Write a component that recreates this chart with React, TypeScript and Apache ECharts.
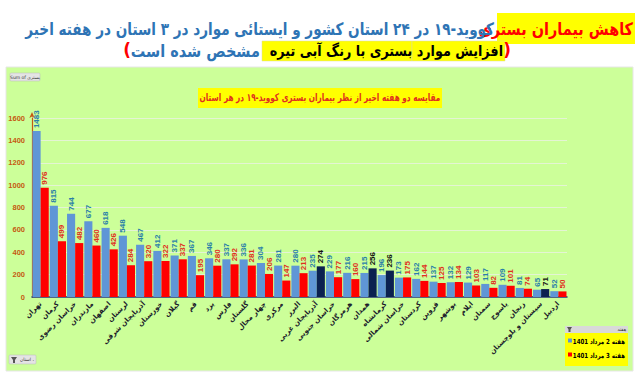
import React, { useEffect, useRef } from 'react';
import * as echarts from 'echarts';

const provinces = [
  'تهران', 'کرمان', 'خراسان رضوی', 'مازندران', 'اصفهان', 'لرستان', 'آذربایجان شرقی',
  'خوزستان', 'گیلان', 'قم', 'یزد', 'فارس', 'گلستان', 'چهار محال', 'مرکزی', 'البرز',
  'آذربایجان غربی', 'خراسان جنوبی', 'هرمزگان', 'همدان', 'کرمانشاه', 'خراسان شمالی',
  'کردستان', 'قزوین', 'بوشهر', 'ایلام', 'سمنان', 'یاسوج', 'زنجان', 'سیستان و بلوچستان', 'اردبیل',
];
const week2 = [1483, 815, 744, 677, 618, 548, 467, 412, 371, 367, 346, 337, 336, 304, 281, 280, 235, 229, 216, 215, 196, 173, 162, 137, 132, 129, 117, 109, 81, 65, 52];
const week3 = [976, 499, 482, 460, 426, 284, 320, 322, 337, 195, 280, 292, 281, 206, 147, 213, 274, 177, 160, 256, 236, 175, 144, 125, 134, 103, 82, 101, 74, 71, 50];
const increased = ['آذربایجان غربی', 'همدان', 'کرمانشاه', 'سیستان و بلوچستان'];
const seriesNames = ['هفته 2 مرداد 1401', 'هفته 3 مرداد 1401'];

const BLUE = '#5f96d6';
const RED = '#ff0000';
const DARK = '#0b2150';
const FA = 'DejaVu Sans';

export default function App() {
  const ref = useRef<HTMLDivElement>(null);
  useEffect(() => {
    document.body.style.margin = '0';
    const chart = echarts.init(ref.current!, null, { renderer: 'svg' });
    const labelBase = {
      show: true,
      position: 'top',
      rotate: 90,
      align: 'left',
      verticalAlign: 'middle',
      distance: 3,
      fontSize: 8,
      fontWeight: 'bold',
      fontFamily: 'Liberation Sans',
    };
    const txt = (x: number, y: number, text: string, fill: string, font: string, align: string, sx = 1) => ({
      type: 'text', x, y, scaleX: sx,
      style: { text, align, verticalAlign: 'middle', fill, font },
    });
    chart.setOption({
      animation: false,
      backgroundColor: '#ffffff',
      graphic: [
        { type: 'rect', z: -10, shape: { x: 6, y: 67, width: 627, height: 304 }, style: { fill: '#ccff99', stroke: '#e6e6e6' } },
        // main title line 1
        { type: 'rect', shape: { x: 497, y: 13, width: 138, height: 31 }, style: { fill: '#ffff00' } },
        txt(633, 29, 'کاهش بیماران بستری', RED, `bold 17px "${FA}"`, 'right', 0.85),
        txt(494, 29, 'کووید-۱۹ در ۲۴ استان کشور و ایستائی موارد در ۳ استان در هفته اخیر', '#2e74b5', `bold 17px "${FA}"`, 'right', 0.8),
        // line 2
        { type: 'rect', shape: { x: 262, y: 41, width: 150, height: 20 }, style: { fill: '#ffff00', stroke: '#d8d8a0', lineWidth: 0.5 } },
        { type: 'rect', shape: { x: 412, y: 41, width: 93, height: 20 }, style: { fill: '#ffff00', stroke: '#d8d8a0', lineWidth: 0.5 } },
        txt(511, 50, ')', RED, `bold 17px "${FA}"`, 'right'),
        txt(503, 51, 'افزایش موارد بستری با رنگ آبی تیره', '#000000', `bold 15px "${FA}"`, 'right', 0.85),
        txt(260, 51, 'مشخص شده است', '#2e74b5', `bold 17px "${FA}"`, 'right', 0.85),
        txt(131, 50, '(', RED, `bold 17px "${FA}"`, 'right'),
        // chart title
        { type: 'rect', shape: { x: 198, y: 88, width: 244, height: 20 }, style: { fill: '#ffff00' } },
        { type: 'text', x: 320, y: 98, scaleX: 0.7, style: { text: 'مقایسه دو هفته اخیر از نظر بیماران بستری کووید-۱۹ در هر استان', align: 'center', verticalAlign: 'middle', fill: '#e0301e', font: `bold 10.5px "${FA}"` } },
        // top-left button
        { type: 'rect', shape: { x: 10, y: 73, width: 30, height: 8, r: 1 }, style: { fill: '#e4e4e4', stroke: '#b8b8b8', lineWidth: 0.5 } },
        { type: 'text', x: 25, y: 77, style: { text: 'Sum of بستری', align: 'center', verticalAlign: 'middle', fill: '#333', font: `4.5px "${FA}"` } },
        // bottom-left button
        { type: 'rect', shape: { x: 9, y: 355, width: 27, height: 9, r: 1 }, style: { fill: '#e4e4e4', stroke: '#b8b8b8', lineWidth: 0.5 } },
        { type: 'polygon', shape: { points: [[11, 357], [17, 357], [15, 360], [15, 363], [13, 363], [13, 360]] }, style: { fill: '#555' } },
        { type: 'text', x: 34, y: 359.5, style: { text: 'استان ،', align: 'right', verticalAlign: 'middle', fill: '#333', font: `4.5px "${FA}"` } },
        // legend
        { type: 'rect', shape: { x: 565, y: 326, width: 63, height: 40 }, style: { fill: '#ffff00' } },
        { type: 'rect', shape: { x: 565, y: 326, width: 63, height: 7 }, style: { fill: '#d9d9d9' } },
        { type: 'polygon', shape: { points: [[567, 327], [572, 327], [570.5, 329.5], [570.5, 332], [568.5, 332], [568.5, 329.5]] }, style: { fill: '#555' } },
        { type: 'text', x: 626, y: 329.5, style: { text: 'هفته', align: 'right', verticalAlign: 'middle', fill: '#333', font: `4.5px "${FA}"` } },
        { type: 'rect', shape: { x: 568, y: 338.5, width: 4, height: 4 }, style: { fill: BLUE } },
        txt(625, 341, seriesNames[0], '#000', `bold 7px "${FA}"`, 'right', 0.78),
        { type: 'rect', shape: { x: 568, y: 352.5, width: 4, height: 4 }, style: { fill: RED } },
        txt(625, 355, seriesNames[1], '#000', `bold 7px "${FA}"`, 'right', 0.78),
      ],
      grid: { left: 32, right: 73, top: 118, bottom: 79 },
      xAxis: {
        type: 'category',
        data: provinces,
        axisLine: { lineStyle: { color: '#1f3864', width: 1.5 } },
        axisTick: { show: false },
        axisLabel: { interval: 0, rotate: 45, margin: 6, fontSize: 7, fontWeight: 'bold', color: '#1a1a2a', fontFamily: FA },
      },
      yAxis: {
        type: 'value',
        min: 0,
        max: 1600,
        interval: 200,
        axisLine: { show: true, symbol: ['none', 'arrow'], symbolSize: [4, 6], symbolOffset: [0, 6], lineStyle: { color: '#c55a11', width: 1.2 } },
        axisTick: { show: false },
        axisLabel: { margin: 7, fontSize: 7.5, fontWeight: 'bold', color: '#c55a11', fontFamily: 'Liberation Sans', formatter: (v: number) => String(v) },
        splitLine: { lineStyle: { color: '#e4f4d4', width: 1 } },
      },
      series: [
        {
          name: seriesNames[0],
          type: 'bar',
          data: week2,
          barGap: '0%',
          barCategoryGap: '6%',
          itemStyle: { color: BLUE },
          label: { ...labelBase, color: '#2a7fa8' },
        },
        {
          name: seriesNames[1],
          type: 'bar',
          data: week3.map((v, i) =>
            increased.includes(provinces[i])
              ? { value: v, itemStyle: { color: DARK }, label: { color: '#111111' } }
              : v
          ),
          itemStyle: { color: RED },
          label: { ...labelBase, color: '#e0301e' },
        },
      ],
    });
    return () => chart.dispose();
  }, []);
  return <div ref={ref} style={{ width: 640, height: 376 }} />;
}
